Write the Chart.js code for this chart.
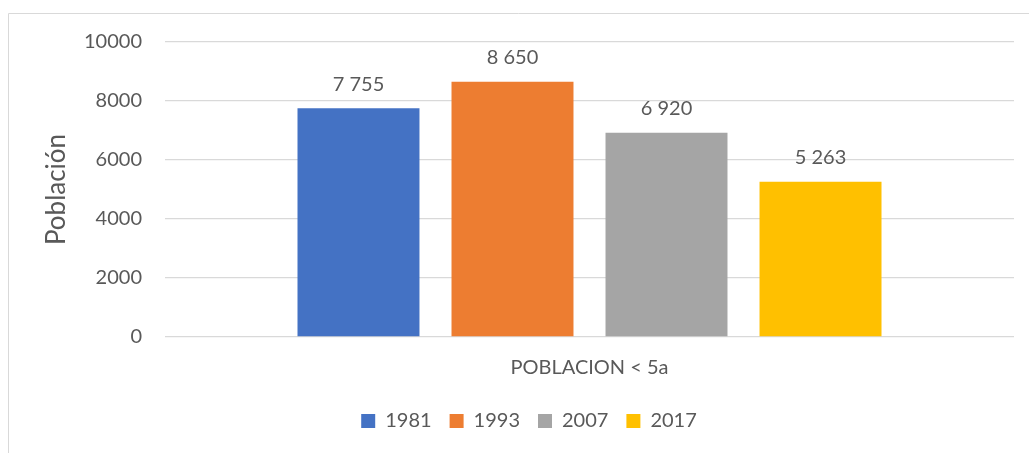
<!DOCTYPE html>
<html>
<head>
<meta charset="utf-8">
<script src="https://cdn.jsdelivr.net/npm/chart.js@4/dist/chart.umd.min.js"></script>
<style>
  html, body { margin: 0; padding: 0; background: #fff; }
  #wrap { width: 1029px; height: 453px; position: relative; }
</style>
</head>
<body>
<div id="wrap"><canvas id="c" width="1029" height="453"></canvas></div>
<script>
const categories = ["POBLACION < 5a"];
const seriesNames = ["1981", "1993", "2007", "2017"];
const seriesValues = [[7755], [8650], [6920], [5263]];
const seriesColors = ["#4472C4", "#ED7D31", "#A5A5A5", "#FFC000"];
const yTicks = [0, 2000, 4000, 6000, 8000, 10000];

const FONT = "Lato, 'Open Sans', sans-serif";
const TXT = "#595959";

function fmt(v) {
  return String(v).replace(/\B(?=(\d{3})+(?!\d))/g, " ");
}

const framePlugin = {
  id: "frame",
  beforeDraw(chart) {
    const ctx = chart.ctx;
    ctx.save();
    ctx.strokeStyle = "#d9d9d9";
    ctx.lineWidth = 1;
    ctx.beginPath();
    ctx.moveTo(8.5, 453);
    ctx.lineTo(8.5, 13.5);
    ctx.lineTo(1029, 13.5);
    ctx.stroke();
    ctx.restore();
  }
};

const legendShift = {
  id: "legendShift",
  afterLayout(chart) {
    if (chart.legend) {
      chart.legend.left += 18;
      chart.legend.right += 18;
    }
  }
};

const labelPlugin = {
  id: "valueLabels",
  afterDatasetsDraw(chart) {
    const ctx = chart.ctx;
    ctx.save();
    ctx.font = "20px " + FONT;
    ctx.fillStyle = TXT;
    ctx.textAlign = "center";
    ctx.textBaseline = "middle";
    chart.data.datasets.forEach((ds, i) => {
      const meta = chart.getDatasetMeta(i);
      meta.data.forEach((bar, j) => {
        ctx.fillText(fmt(ds.data[j]), bar.x, bar.y - 24);
      });
    });
    ctx.restore();
  }
};

new Chart(document.getElementById("c"), {
  type: "bar",
  data: {
    labels: categories,
    datasets: seriesNames.map((n, i) => ({
      label: n,
      data: seriesValues[i],
      backgroundColor: seriesColors[i],
      borderWidth: 0,
      categoryPercentage: 0.7256,
      barPercentage: 0.792
    }))
  },
  options: {
    responsive: false,
    animation: false,
    devicePixelRatio: 1,
    layout: { padding: { left: 8, top: 42, right: 15, bottom: 12 } },
    plugins: {
      legend: {
        position: "bottom",
        labels: {
          font: { family: FONT, size: 20 },
          color: TXT,
          boxWidth: 14,
          boxHeight: 14,
          padding: 18
        }
      },
      tooltip: { enabled: false }
    },
    scales: {
      x: {
        grid: { display: false },
        border: { display: false },
        ticks: { font: { family: FONT, size: 20 }, color: TXT, padding: 11 },
        afterFit(s) { s.height = 56; }
      },
      y: {
        min: 0,
        max: 10000,
        afterBuildTicks(s) { s.ticks = yTicks.map(v => ({ value: v })); },
        grid: { color: "#d9d9d9", lineWidth: 1.3, drawTicks: false },
        border: { display: false },
        ticks: {
          font: { family: FONT, size: 20 },
          color: TXT,
          padding: 23,
          callback: (v) => String(v)
        },
        title: {
          display: true,
          text: "Población",
          font: { family: FONT, size: 26 },
          color: TXT,
          padding: { top: 33, bottom: 0 }
        },
        afterFit(s) { s.width = 157; }
      }
    }
  },
  plugins: [framePlugin, labelPlugin, legendShift]
});
</script>
</body>
</html>
